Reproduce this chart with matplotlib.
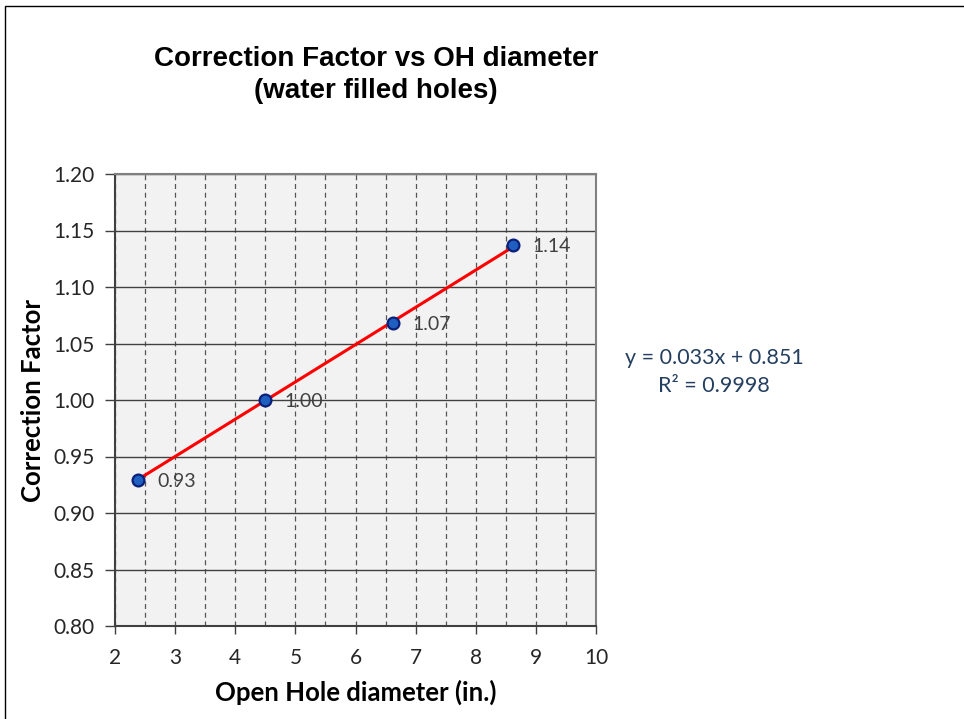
import numpy as np
import matplotlib
matplotlib.use("Agg")
import matplotlib.pyplot as plt
from matplotlib.patches import Rectangle

# data
oh_diameter = np.array([2.375, 4.5, 6.625, 8.625])
corr_factor = np.array([0.929, 1.000, 1.068, 1.137])
point_labels = ["0.93", "1.00", "1.07", "1.14"]

fit_slope = 0.033
fit_icept = 0.851
fit_text = ["y = 0.033x + 0.851", "R\u00b2 = 0.9998"]

xticks = np.arange(2, 11, 1)
yticks = np.arange(0.80, 1.201, 0.05)

body = "Lato"
title_font = "Liberation Sans"

fig = plt.figure(figsize=(9.64, 7.19), dpi=100)
fig.patch.set_facecolor("white")
# chart border (only top and left show in the crop)
fig.patches.append(Rectangle((5 / 964, -0.1), 1.2, 1 - 6 / 719 + 0.1,
                             transform=fig.transFigure, fill=False,
                             edgecolor="#000000", linewidth=1.0))

ax = fig.add_axes([115 / 964, 1 - 626 / 719, 481 / 964, 452 / 719])
ax.set_facecolor("#f2f2f2")

ax.set_xlim(2, 10)
ax.set_ylim(0.80, 1.20)
ax.set_xticks(xticks)
ax.set_yticks(yticks)
ax.set_xticklabels([str(v) for v in xticks], fontfamily=body, fontsize=15, color="#262626")
ax.set_yticklabels(["%.2f" % v for v in yticks], fontfamily=body, fontsize=15, color="#262626")
ax.set_xticks(np.arange(2, 10.01, 0.5), minor=True)
ax.xaxis.remove_overlapping_locs = False
ax.tick_params(axis="x", which="minor", length=0)
ax.tick_params(axis="x", which="major", length=6, width=1, color="#404040", pad=10)
ax.tick_params(axis="y", which="major", length=7, width=1, color="#404040", pad=8)

ax.grid(True, axis="y", which="major", color="#404040", linewidth=1.0, linestyle="-")
ax.grid(True, axis="x", which="minor", color="#555555", linewidth=0.9, linestyle=(0, (4, 3)))
ax.set_axisbelow(True)

for s in ["top", "right"]:
    ax.spines[s].set_color("#808080")
    ax.spines[s].set_linewidth(1.5)
for s in ["left", "bottom"]:
    ax.spines[s].set_color("#404040")
    ax.spines[s].set_linewidth(1.5)

# trendline
xf = np.array([oh_diameter.min(), oh_diameter.max()])
ax.plot(xf, fit_slope * xf + fit_icept, color="#ff0000", linewidth=2.2, zorder=3)

ax.plot(oh_diameter, corr_factor, linestyle="none", marker="o", markersize=8.5,
        markerfacecolor="#1f5fc0", markeredgecolor="#0a1f7a", markeredgewidth=1.6, zorder=4)

for x, y, t in zip(oh_diameter, corr_factor, point_labels):
    ax.annotate(t, (x, y), xytext=(14, -1), textcoords="offset points",
                ha="left", va="center", fontfamily=body, fontsize=14, color="#404040", zorder=5)

ax.set_xlabel("Open Hole diameter (in.)", fontfamily=body, fontsize=18.5, fontweight="bold",
              color="#000000", labelpad=8)
ax.set_ylabel("Correction Factor", fontfamily=body, fontsize=18.5, fontweight="bold",
              color="#000000", labelpad=6)

fig.text(376 / 964, 1 - 75 / 719, "Correction Factor vs OH diameter\n(water filled holes)",
         ha="center", va="center", fontfamily=title_font, fontsize=20, fontweight="bold",
         linespacing=1.3, color="#000000")

fig.text(714 / 964, 1 - 358 / 719, fit_text[0], ha="center", va="center",
         fontfamily=body, fontsize=15.5, color="#243f60")
fig.text(714 / 964, 1 - 386 / 719, fit_text[1], ha="center", va="center",
         fontfamily=body, fontsize=15.5, color="#243f60")

fig.savefig("out.png", dpi=100, facecolor=fig.get_facecolor())
